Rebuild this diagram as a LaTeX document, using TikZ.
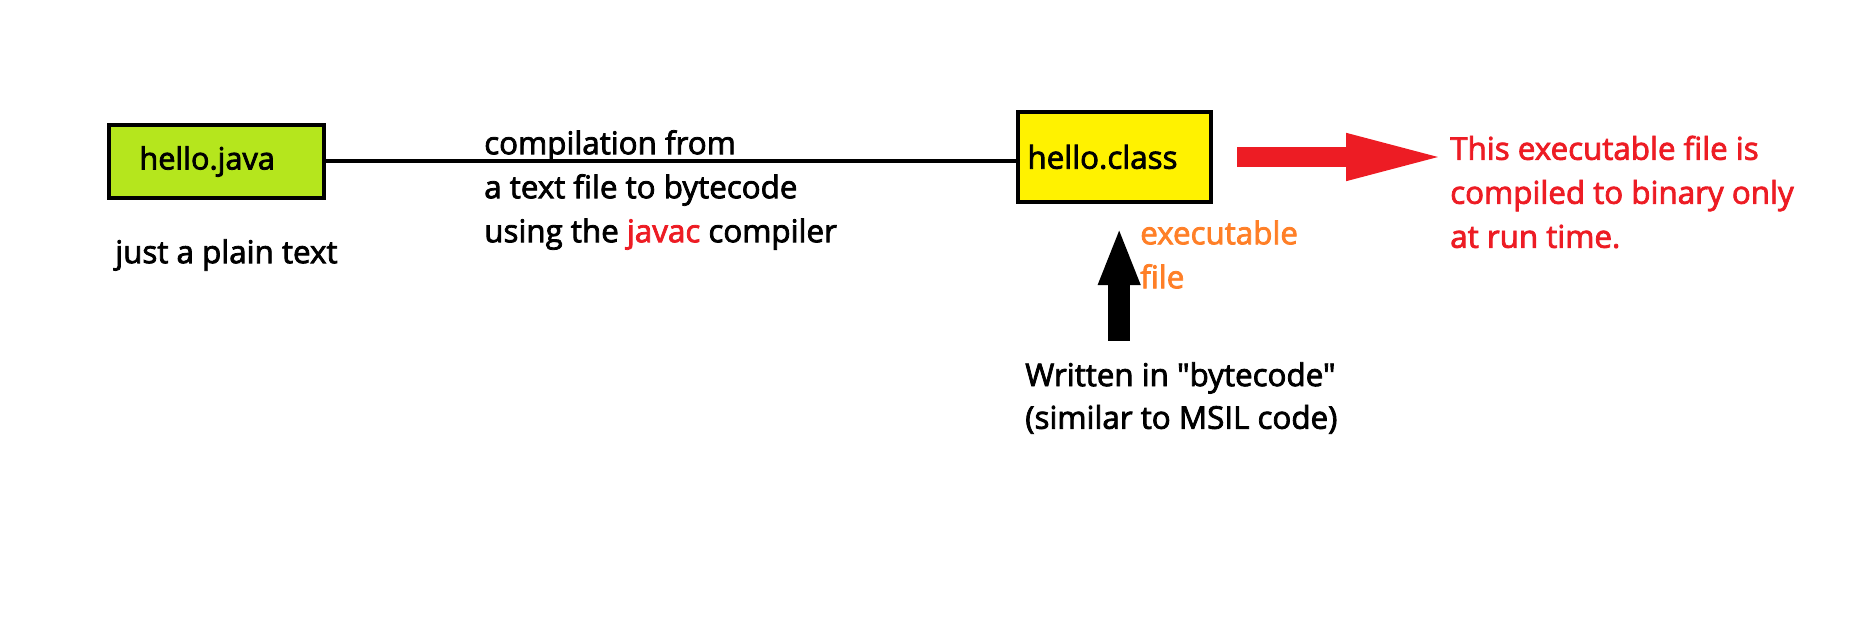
\documentclass[tikz,border=0pt]{standalone}
\usepackage{fontspec}
\setmainfont{Open Sans}[Ligatures=TeXOff,FakeBold=2.5]
\usepackage{tikz}
\usetikzlibrary{arrows.meta}
\definecolor{limegreen}{HTML}{B5E61D}
\definecolor{paintyellow}{HTML}{FFF200}
\definecolor{paintred}{HTML}{ED1C24}
\definecolor{paintorange}{HTML}{FF7F27}

\begin{document}
\begin{tikzpicture}[x=0.75pt,y=-0.75pt,
    filebox/.style={draw=black,line width=3pt,inner sep=0pt},
    txt/.style={inner sep=0pt,anchor=west,align=left,font=\fontsize{23.5}{33}\selectfont},
    redarrow/.style={draw=paintred,line width=15pt,-{Triangle[length=78pt,width=31pt]}},
    blackarrow/.style={draw=black,line width=16.5pt,-{Triangle[length=43.5pt,width=28.5pt]}}]
        \useasboundingbox (0,0) rectangle (1851,624);
        \node [filebox,fill=limegreen,minimum width=161pt,minimum height=55pt,
               font=\fontsize{23}{26}\selectfont] (javabox) at (216.5,161.5) {hello.java\kern14pt};
        \node [filebox,fill=paintyellow,minimum width=145pt,minimum height=68pt,
               font=\fontsize{23.5}{26}\selectfont] (classbox) at (1114.5,157) {hello.class\kern18pt};
        \node [txt] (compnote) at (484,190) {compilation from\\a text file to bytecode\\using the \textcolor{paintred}{javac} compiler};
        \node [txt] (plainnote) at (115,255) {just a plain text};
        \node [txt,text=paintred] (runnote) at (1450,192) {This executable file is\\compiled to binary only\\at run time.};
        \node [txt,text=paintorange] (exenote) at (1140,254.5) {executable\\file};
        \node [txt,font=\fontsize{23.5}{32}\selectfont] (written) at (1025,398) {Written in "bytecode"\\(similar to MSIL code)};
        \draw [line width=3pt] (javabox.east) -- (javabox.east -| classbox.west);
        \draw [redarrow,shorten <=18pt,shorten >=0pt] (classbox.east) -- (runnote.west |- classbox.east);
        \draw [blackarrow,shorten <=16pt,shorten >=17pt] ([xshift=3.5]written.north -| classbox.south) -- ([xshift=3.5]classbox.south);
\end{tikzpicture}
\end{document}
